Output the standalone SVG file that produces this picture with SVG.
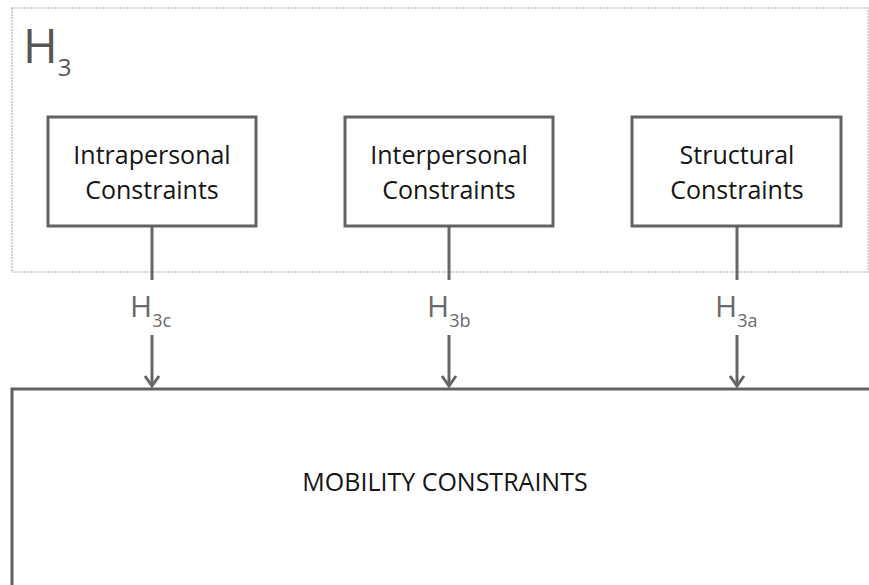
<svg xmlns="http://www.w3.org/2000/svg" width="869" height="585" viewBox="0 0 869 585">
  <defs>
    <!-- open chevron arrowhead, drawn pointing along +x -->
    <marker id="chevron" markerUnits="userSpaceOnUse" markerWidth="14" markerHeight="18" viewBox="-12 -9 14 18" refX="0" refY="0" orient="auto" overflow="visible">
      <path d="M-10,-7 L0,0 L-10,7" fill="none" stroke="#666666" stroke-width="3" stroke-linejoin="miter"/>
    </marker>
  </defs>
  <style>
    text { font-family: "Open Sans", "Noto Sans", "Liberation Sans", sans-serif; }
    .frame { fill: none; stroke: #c4c4c4; stroke-width: 1.5; stroke-dasharray: 2 1; }
    .box { fill: #ffffff; stroke: #626262; stroke-width: 3; }
    .boxtext { font-size: 25px; fill: #151515; text-anchor: middle; }
    .link { stroke: #666666; stroke-width: 3; fill: none; }
    .hlabel { font-size: 30px; fill: #6a6a6a; }
    .hsub { font-size: 18px; }
  </style>

  <!-- background -->
  <rect x="0" y="0" width="869" height="585" fill="#ffffff"/>

  <!-- H3 grouping frame -->
  <g id="h3-frame">
    <rect class="frame" x="12" y="8" width="856" height="264"/>
    <text x="23" y="63" font-size="47" fill="#555555">H<tspan font-size="24" dy="13">3</tspan></text>
  </g>

  <!-- connectors -->
  <g id="connectors">
    <line class="link" x1="152" y1="226" x2="152" y2="280"/>
    <line class="link" x1="449" y1="226" x2="449" y2="280"/>
    <line class="link" x1="737" y1="226" x2="737" y2="280"/>
    <line class="link" x1="152" y1="335" x2="152" y2="386" marker-end="url(#chevron)"/>
    <line class="link" x1="449" y1="335" x2="449" y2="386" marker-end="url(#chevron)"/>
    <line class="link" x1="737" y1="335" x2="737" y2="386" marker-end="url(#chevron)"/>
    <text class="hlabel" x="130" y="317">H<tspan class="hsub" dy="10">3c</tspan></text>
    <text class="hlabel" x="427" y="317">H<tspan class="hsub" dy="10">3b</tspan></text>
    <text class="hlabel" x="715" y="317">H<tspan class="hsub" dy="10">3a</tspan></text>
  </g>

  <!-- constraint nodes -->
  <g id="intrapersonal">
    <rect class="box" x="48" y="117" width="208" height="109"/>
    <text class="boxtext" x="152" y="164">Intrapersonal</text>
    <text class="boxtext" x="152" y="199">Constraints</text>
  </g>
  <g id="interpersonal">
    <rect class="box" x="345" y="117" width="208" height="109"/>
    <text class="boxtext" x="449" y="164">Interpersonal</text>
    <text class="boxtext" x="449" y="199">Constraints</text>
  </g>
  <g id="structural">
    <rect class="box" x="632" y="117" width="209" height="109"/>
    <text class="boxtext" x="737" y="164">Structural</text>
    <text class="boxtext" x="737" y="199">Constraints</text>
  </g>

  <g id="mobility">
    <rect class="box" x="12" y="389" width="880" height="220"/>
    <text class="boxtext" x="445" y="491">MOBILITY CONSTRAINTS</text>
  </g>
</svg>
